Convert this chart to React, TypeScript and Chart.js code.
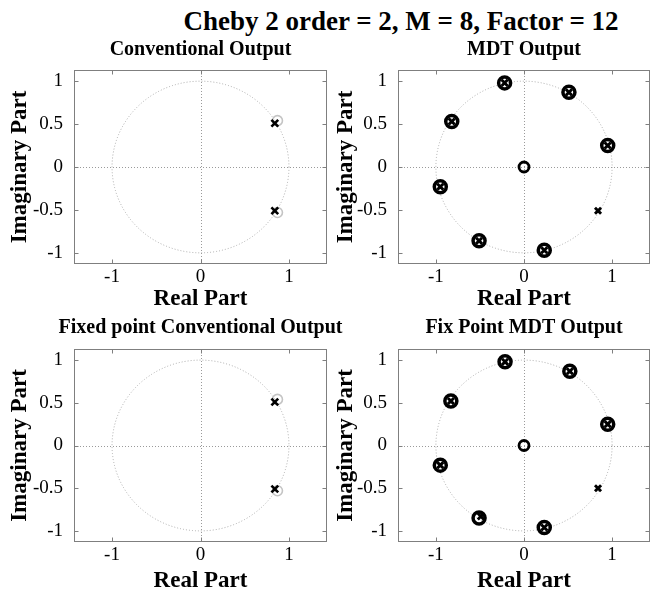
import React, { useEffect, useRef } from 'react';
import { Chart, registerables } from 'chart.js';

Chart.register(...registerables);

// ---------- text ----------
const mainTitle = 'Cheby 2 order = 2, M = 8, Factor = 12';
const subplotTitles = [
  'Conventional Output',
  'MDT Output',
  'Fixed point Conventional Output',
  'Fix Point MDT Output',
];
const xAxisLabel = 'Real Part';
const yAxisLabel = 'Imaginary Part';

// ---------- axes ----------
const xTicks = [-1, 0, 1];
const yTicks = [-1, -0.5, 0, 0.5, 1];
const xLimits = [-1.43, 1.43];
const yLimits = [-1.13, 1.13];
const unitCircleRadius = 1;

// ---------- data ----------
// Conventional output
const convZerosX = [0.87, 0.87];
const convZerosY = [0.54, -0.53];
const convPolesX = [0.84, 0.84];
const convPolesY = [0.51, -0.51];

// MDT output
const mdtZerosX = [0.95, 0.51, -0.22, -0.82, -0.95, -0.51, 0.23];
const mdtZerosY = [0.25, 0.87, 0.98, 0.53, -0.23, -0.86, -0.97];
const mdtOriginZerosX = [0];
const mdtOriginZerosY = [0];
const mdtPolesX = [0.95, 0.51, -0.22, -0.82, -0.95, -0.51, 0.23, 0.84];
const mdtPolesY = [0.25, 0.87, 0.98, 0.53, -0.23, -0.86, -0.97, -0.51];

// Fixed point conventional output
const fxConvZerosX = [0.87, 0.87];
const fxConvZerosY = [0.54, -0.53];
const fxConvPolesX = [0.84, 0.84];
const fxConvPolesY = [0.51, -0.51];

// Fixed point MDT output
const fxMdtZerosX = [0.95, 0.52, -0.215, -0.83, -0.95, -0.51, 0.23];
const fxMdtZerosY = [0.25, 0.87, 0.98, 0.52, -0.23, -0.85, -0.96];
const fxMdtOriginZerosX = [0];
const fxMdtOriginZerosY = [0];
const fxMdtPolesX = [0.95, 0.52, -0.215, -0.83, -0.95, -0.49, 0.23, 0.84];
const fxMdtPolesY = [0.25, 0.87, 0.98, 0.52, -0.23, -0.83, -0.96, -0.5];

const toPts = (xs: number[], ys: number[]) => xs.map((x, i) => ({ x, y: ys[i] }));

type Style = 'conv' | 'mdt';
const panelData = [
  { zeros: toPts(convZerosX, convZerosY), origin: [] as { x: number; y: number }[], poles: toPts(convPolesX, convPolesY), style: 'conv' as Style },
  { zeros: toPts(mdtZerosX, mdtZerosY), origin: toPts(mdtOriginZerosX, mdtOriginZerosY), poles: toPts(mdtPolesX, mdtPolesY), style: 'mdt' as Style },
  { zeros: toPts(fxConvZerosX, fxConvZerosY), origin: [] as { x: number; y: number }[], poles: toPts(fxConvPolesX, fxConvPolesY), style: 'conv' as Style },
  { zeros: toPts(fxMdtZerosX, fxMdtZerosY), origin: toPts(fxMdtOriginZerosX, fxMdtOriginZerosY), poles: toPts(fxMdtPolesX, fxMdtPolesY), style: 'mdt' as Style },
];

// ---------- layout ----------
// each canvas is symmetric about its plot box (an empty right axis mirrors the left one),
// so the full-width subplot title is centred over the box
const FONT = "'Liberation Serif', 'Times New Roman', serif";
const layouts = [
  { cl: 0, ct: 36, cw: 401, ch: 276, yw: 74, xh: 48, tPadTop: 4, tPadBot: 10, xtPadBot: 1.5, ytPadTop: 8.5 },
  { cl: 330, ct: 36, cw: 388, ch: 276, yw: 68, xh: 48, tPadTop: 4, tPadBot: 10, xtPadBot: 1.5, ytPadTop: 4.5 },
  { cl: 0, ct: 312, cw: 401, ch: 286, yw: 74, xh: 56, tPadTop: 6, tPadBot: 11, xtPadBot: 5, ytPadTop: 8.5 },
  { cl: 330, ct: 312, cw: 388, ch: 286, yw: 68, xh: 56, tPadTop: 6, tPadBot: 11, xtPadBot: 5, ytPadTop: 4.5 },
];

const decorPlugin = {
  id: 'zplaneDecor',
  beforeDatasetsDraw(chart: any) {
    const { ctx, chartArea: a, scales } = chart;
    const x = scales.x;
    const y = scales.y;
    ctx.save();
    ctx.beginPath();
    ctx.rect(a.left, a.top, a.right - a.left, a.bottom - a.top);
    ctx.clip();
    const cx = x.getPixelForValue(0);
    const cy = y.getPixelForValue(0);
    const rx = x.getPixelForValue(unitCircleRadius) - cx;
    const ry = cy - y.getPixelForValue(unitCircleRadius);
    ctx.lineWidth = 1;
    ctx.setLineDash([1, 2]);
    ctx.strokeStyle = '#ababab';
    ctx.beginPath();
    ctx.ellipse(cx, cy, rx, ry, 0, 0, Math.PI * 2);
    ctx.stroke();
    ctx.strokeStyle = '#9a9a9a';
    ctx.beginPath();
    ctx.moveTo(a.left, Math.round(cy) + 0.5);
    ctx.lineTo(a.right, Math.round(cy) + 0.5);
    ctx.moveTo(Math.round(cx) + 0.5, a.top);
    ctx.lineTo(Math.round(cx) + 0.5, a.bottom);
    ctx.stroke();
    ctx.restore();
  },
  afterDatasetsDraw(chart: any) {
    const { ctx, chartArea: a, scales } = chart;
    const x = scales.x;
    const y = scales.y;
    const L = Math.round(a.left) + 0.5;
    const R = Math.round(a.right) - 0.5;
    const T = Math.round(a.top) + 0.5;
    const B = Math.round(a.bottom) - 0.5;
    ctx.save();
    ctx.strokeStyle = '#7f7f7f';
    ctx.lineWidth = 1;
    ctx.setLineDash([]);
    ctx.strokeRect(L, T, R - L, B - T);
    const tl = 4;
    ctx.beginPath();
    xTicks.forEach((v) => {
      const px = Math.round(x.getPixelForValue(v)) + 0.5;
      ctx.moveTo(px, B);
      ctx.lineTo(px, B - tl);
      ctx.moveTo(px, T);
      ctx.lineTo(px, T + tl);
    });
    yTicks.forEach((v) => {
      const py = Math.round(y.getPixelForValue(v)) + 0.5;
      ctx.moveTo(L, py);
      ctx.lineTo(L + tl, py);
      ctx.moveTo(R, py);
      ctx.lineTo(R - tl, py);
    });
    ctx.stroke();
    ctx.restore();
  },
};

function buildDatasets(p: (typeof panelData)[number]) {
  if (p.style === 'conv') {
    return [
      {
        label: 'Poles',
        data: p.poles,
        pointStyle: 'crossRot',
        pointRadius: 4.8,
        pointBorderWidth: 2.6,
        borderColor: '#000',
        backgroundColor: '#000',
        showLine: false,
      },
      {
        label: 'Zeros',
        data: p.zeros,
        pointStyle: 'circle',
        pointRadius: 5,
        pointBorderWidth: 1.6,
        borderColor: '#c4c4c4',
        backgroundColor: 'rgba(0,0,0,0)',
        showLine: false,
      },
    ];
  }
  return [
    {
      label: 'Poles',
      data: p.poles,
      pointStyle: 'crossRot',
      pointRadius: 4.3,
      pointBorderWidth: 2.9,
      borderColor: '#000',
      backgroundColor: '#000',
      showLine: false,
    },
    {
      label: 'Zeros',
      data: p.zeros,
      pointStyle: 'circle',
      pointRadius: 6,
      pointBorderWidth: 3.5,
      borderColor: '#000',
      backgroundColor: 'rgba(0,0,0,0)',
      showLine: false,
    },
    {
      label: 'Zero at origin',
      data: p.origin,
      pointStyle: 'circle',
      pointRadius: 5,
      pointBorderWidth: 2.8,
      borderColor: '#000',
      backgroundColor: 'rgba(0,0,0,0)',
      showLine: false,
    },
  ];
}

export default function App() {
  const refs = [
    useRef<HTMLCanvasElement>(null),
    useRef<HTMLCanvasElement>(null),
    useRef<HTMLCanvasElement>(null),
    useRef<HTMLCanvasElement>(null),
  ];

  useEffect(() => {
    const charts: Chart[] = [];
    layouts.forEach((lay, i) => {
      const canvas = refs[i].current;
      if (!canvas) return;
      const chart = new Chart(canvas, {
        type: 'scatter',
        data: { datasets: buildDatasets(panelData[i]) as any },
        options: {
          animation: false,
          responsive: false,
          devicePixelRatio: 1,
          layout: { padding: 0 },
          events: [],
          plugins: {
            legend: { display: false },
            tooltip: { enabled: false },
            title: {
              display: true,
              text: subplotTitles[i],
              fullSize: true,
              color: '#000',
              font: { family: FONT, size: 20, weight: 'bold', lineHeight: 1 },
              padding: { top: lay.tPadTop, bottom: lay.tPadBot },
            },
          },
          scales: {
            x: {
              type: 'linear',
              min: xLimits[0],
              max: xLimits[1],
              afterBuildTicks: (s: any) => {
                s.ticks = xTicks.map((v) => ({ value: v }));
              },
              afterFit: (s: any) => {
                s.height = lay.xh;
              },
              grid: { display: false, drawTicks: false },
              border: { display: false },
              ticks: {
                color: '#000',
                padding: 4,
                font: { family: FONT, size: 19, lineHeight: 1 },
                callback: (v: any) => String(v),
              },
              title: {
                display: true,
                text: xAxisLabel,
                color: '#000',
                font: { family: FONT, size: 23, weight: 'bold', lineHeight: 1 },
                padding: { top: 0, bottom: lay.xtPadBot },
              },
            },
            y: {
              type: 'linear',
              position: 'left',
              min: yLimits[0],
              max: yLimits[1],
              afterBuildTicks: (s: any) => {
                s.ticks = yTicks.map((v) => ({ value: v }));
              },
              afterFit: (s: any) => {
                s.width = lay.yw;
              },
              grid: { display: false, drawTicks: false },
              border: { display: false },
              ticks: {
                color: '#000',
                padding: 11,
                font: { family: FONT, size: 19, lineHeight: 1 },
                callback: (v: any) => String(v),
              },
              title: {
                display: true,
                text: yAxisLabel,
                color: '#000',
                font: { family: FONT, size: 23, weight: 'bold', lineHeight: 1 },
                padding: { top: lay.ytPadTop, bottom: 0 },
              },
            },
            yMirror: {
              type: 'linear',
              position: 'right',
              min: yLimits[0],
              max: yLimits[1],
              afterFit: (s: any) => {
                s.width = lay.yw;
              },
              grid: { display: false, drawTicks: false },
              border: { display: false },
              ticks: { display: false },
              title: { display: false },
            },
          },
        } as any,
        plugins: [decorPlugin],
      });
      charts.push(chart);
    });
    return () => charts.forEach((c) => c.destroy());
  }, []);

  return (
    <div
      style={{
        position: 'absolute',
        left: 0,
        top: 0,
        width: 651,
        height: 598,
        background: '#fff',
        overflow: 'hidden',
      }}
    >
      <div
        style={{
          position: 'absolute',
          left: 101,
          top: 8,
          width: 600,
          textAlign: 'center',
          fontFamily: FONT,
          fontWeight: 'bold',
          fontSize: 27,
          lineHeight: '27px',
          color: '#000',
          whiteSpace: 'nowrap',
        }}
      >
        {mainTitle}
      </div>
      {layouts.map((lay, i) => (
        <canvas
          key={i}
          ref={refs[i]}
          width={lay.cw}
          height={lay.ch}
          style={{ position: 'absolute', left: lay.cl, top: lay.ct, width: lay.cw, height: lay.ch }}
        />
      ))}
    </div>
  );
}
